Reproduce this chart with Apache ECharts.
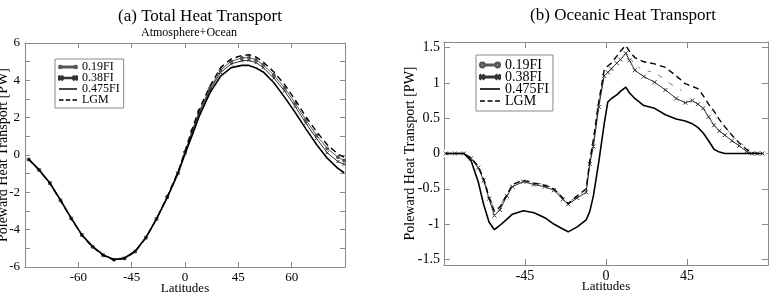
<!DOCTYPE html>
<html>
<head>
<meta charset="utf-8">
<script src="https://cdn.jsdelivr.net/npm/echarts@6/dist/echarts.min.js"></script>
<style>
html, body { margin: 0; padding: 0; background: #fff; }
#chart { width: 771px; height: 297px; }
</style>
</head>
<body>
<div id="chart"></div>
<script>
// (a) total heat transport, latitudes + values
const totalLat = [-88, -82, -76, -70, -64, -58, -52, -46, -40, -34, -28, -22, -16, -10, -4, 0,
	4, 8, 14, 20, 26, 32, 36, 40, 44, 50, 56, 62, 68, 74, 80, 86, 89.5]
const total019 = [-0.24, -0.81, -1.5, -2.43, -3.4, -4.29, -4.92, -5.37, -5.61, -5.54, -5.17, -4.43, -3.42, -2.25, -0.96, 0.15,
	1.3, 2.35, 3.57, 4.55, 5.02, 5.2, 5.22, 5.1, 4.83, 4.28, 3.6, 2.77, 1.88, 1.05, 0.35, -0.12, -0.3]
const total038 = [-0.23, -0.8, -1.51, -2.43, -3.39, -4.28, -4.91, -5.36, -5.6, -5.53, -5.16, -4.43, -3.42, -2.26, -0.98, 0.1,
	1.2, 2.25, 3.47, 4.42, 4.88, 5.05, 5.07, 4.95, 4.68, 4.12, 3.43, 2.6, 1.7, 0.88, 0.12, -0.35, -0.5]
const total0475 = [-0.22, -0.8, -1.5, -2.42, -3.38, -4.28, -4.9, -5.35, -5.6, -5.52, -5.15, -4.42, -3.42, -2.28, -1.0, 0.05,
	1.05, 2.08, 3.33, 4.22, 4.68, 4.8, 4.8, 4.66, 4.45, 3.87, 3.1, 2.28, 1.4, 0.56, -0.17, -0.72, -0.95]
const totalLgm = [-0.22, -0.82, -1.52, -2.45, -3.4, -4.3, -4.93, -5.38, -5.62, -5.55, -5.18, -4.44, -3.42, -2.22, -0.92, 0.2,
	1.4, 2.45, 3.68, 4.68, 5.15, 5.33, 5.37, 5.25, 4.98, 4.45, 3.78, 2.95, 2.05, 1.25, 0.55, 0.05, -0.12]

// (b) oceanic heat transport
const oceanLat = [-89, -84, -79, -75, -71, -68, -65, -62, -59, -55, -52, -46, -40, -34, -29, -24, -21, -16, -11, -9, -7, -4, -1,
	1, 3, 6, 8, 11, 13, 16, 21, 27, 33, 39, 44, 48, 51, 54, 57, 60, 63, 66, 70, 74, 78, 81, 84, 87]
const ocean019 = [0, 0, 0, -0.07, -0.19, -0.35, -0.6, -0.8, -0.75, -0.57, -0.45, -0.37, -0.41, -0.44, -0.49, -0.62, -0.7, -0.6, -0.52, -0.12, 0.15, 0.72, 1.13,
	1.2, 1.24, 1.33, 1.38, 1.46, 1.38, 1.25, 1.18, 1.15, 1.04, 0.93, 0.87, 0.85, 0.83, 0.75, 0.65, 0.55, 0.45, 0.37, 0.26, 0.17, 0.08, 0.01, 0, 0]
const ocean038 = [0, 0, 0, -0.07, -0.2, -0.38, -0.64, -0.88, -0.8, -0.6, -0.47, -0.4, -0.44, -0.47, -0.52, -0.65, -0.72, -0.63, -0.55, -0.15, 0.1, 0.66, 1.1,
	1.15, 1.2, 1.28, 1.33, 1.42, 1.32, 1.18, 1.09, 1.01, 0.9, 0.78, 0.72, 0.75, 0.7, 0.64, 0.52, 0.4, 0.32, 0.26, 0.18, 0.11, 0.03, 0, 0, 0]
const ocean0475 = [0, 0, 0, -0.1, -0.4, -0.72, -0.97, -1.08, -1.02, -0.93, -0.86, -0.81, -0.84, -0.91, -1.0, -1.07, -1.11, -1.04, -0.94, -0.82, -0.6, -0.12, 0.42,
	0.73, 0.78, 0.83, 0.88, 0.94, 0.86, 0.78, 0.68, 0.64, 0.55, 0.49, 0.46, 0.42, 0.37, 0.29, 0.18, 0.06, 0.02, 0, 0, 0, 0, 0, 0, 0]
const oceanLgm = [0, 0, 0, -0.06, -0.18, -0.36, -0.62, -0.82, -0.76, -0.58, -0.44, -0.38, -0.42, -0.45, -0.5, -0.63, -0.71, -0.6, -0.5, -0.1, 0.2, 0.74, 1.18,
	1.24, 1.28, 1.38, 1.45, 1.53, 1.45, 1.36, 1.3, 1.27, 1.22, 1.1, 0.99, 0.95, 0.92, 0.82, 0.7, 0.6, 0.48, 0.38, 0.26, 0.15, 0.06, 0.01, 0, 0]

const seriesNames = ['0.19FI', '0.38FI', '0.475FI', 'LGM']

// tick values / labels
const totalXTicks = [-60, -30, 0, 30, 60]
const totalXLabels = ['-60', '-45', '0', '45', '60'] // as printed in the figure
const totalYTicks = [-5, -4, -3, -2, -1, 0, 1, 2, 3, 4, 5]
const totalYLabels = [-6, -4, -2, 0, 2, 4, 6]
const oceanXTicks = [-45, 0, 45]
const oceanYTicks = [-1.5, -1, -0.5, 0, 0.5, 1, 1.5]

const FONT = 'Liberation Serif'
const AXIS_GREY = '#8a8a8a'

function zip(xs, ys) {
	return xs.map((x, i) => [x, ys[i]])
}

// legend icons, drawn as filled paths in a 20 x 8 box
const ICON_LINE = 'path://M0,3.2h20v1.6h-20z'
const ICON_DASH = 'path://M0,3.3h5v1.4h-5zM7.5,3.3h5v1.4h-5zM15,3.3h5v1.4h-5z'
function dot(cx, r) {
	return 'M' + (cx - r) + ',4a' + r + ',' + r + ' 0 1,0 ' + 2 * r + ',0a' + r + ',' + r + ' 0 1,0 ' + -2 * r + ',0z'
}
function hole(cx, r) {
	return 'M' + (cx - r) + ',4a' + r + ',' + r + ' 0 1,1 ' + 2 * r + ',0a' + r + ',' + r + ' 0 1,1 ' + -2 * r + ',0z'
}
function cross(cx) {
	const a = 2, b = 0.45
	return 'M' + (cx - a) + ',' + (4 - a + b) + 'L' + (cx - a + b) + ',' + (4 - a) + 'L' + (cx + a) + ',' + (4 + a - b) + 'L' + (cx + a - b) + ',' + (4 + a) + 'Z' +
		'M' + (cx + a - b) + ',' + (4 - a) + 'L' + (cx + a) + ',' + (4 - a + b) + 'L' + (cx - a + b) + ',' + (4 + a) + 'L' + (cx - a) + ',' + (4 + a - b) + 'Z'
}
const ICON_DOTS = 'path://M2,3.6h16v0.8h-16z' + dot(2, 1.4) + dot(18, 1.4)
const ICON_RINGS = 'path://M4.5,3.5h11v1h-11z' + dot(2, 2.5) + hole(2, 1.6) + dot(18, 2.5) + hole(18, 1.6)
const ICON_CROSS = 'path://M0,3.6h20v0.8h-20z' + cross(2) + cross(18)

function frameAxis(opt) {
	// one side of the box, ticks pointing in
	return Object.assign({
		type: 'value',
		axisLine: { show: true, onZero: false, lineStyle: { color: AXIS_GREY, width: 1 } },
		axisTick: { show: true, inside: true, length: 5, lineStyle: { color: AXIS_GREY } },
		axisLabel: { show: false },
		splitLine: { show: false },
		nameMoveOverlap: false
	}, opt)
}

const xLabelMap = {}
totalXTicks.forEach((v, i) => (xLabelMap[v] = totalXLabels[i]))

const crossSymbol = 'path://M0,0L10,10M10,0L0,10'

function makeSeries(data, xi, yi, big) {
	return [
		{
			name: seriesNames[0], type: 'line', xAxisIndex: xi, yAxisIndex: yi,
			data: data[0],
			color: big ? '#777' : '#555',
			symbol: big ? 'emptyCircle' : 'circle',
			symbolSize: big ? 6 : 3,
			itemStyle: { color: big ? '#fff' : '#555', borderColor: big ? '#777' : '#555', borderWidth: 1 },
			lineStyle: { color: big ? '#777' : '#555', width: 1 },
			z: 3
		},
		{
			name: seriesNames[1], type: 'line', xAxisIndex: xi, yAxisIndex: yi,
			data: data[1],
			color: '#333',
			symbol: crossSymbol,
			symbolSize: big ? 4 : 3,
			itemStyle: { color: '#333', borderColor: '#333', borderWidth: 1 },
			lineStyle: { color: '#333', width: 1 },
			z: 4
		},
		{
			name: seriesNames[2], type: 'line', xAxisIndex: xi, yAxisIndex: yi,
			data: data[2],
			color: '#000',
			symbol: 'none',
			lineStyle: { color: '#000', width: 1.6 },
			z: 5
		},
		{
			name: seriesNames[3], type: 'line', xAxisIndex: xi, yAxisIndex: yi,
			data: data[3],
			color: '#000',
			symbol: 'none',
			lineStyle: { color: '#000', width: 1.4, type: [6, 4] },
			z: 6
		}
	]
}

function legendData(ringColor, ringIcon) {
	return [
		{ name: seriesNames[0], icon: ringIcon, itemStyle: { color: ringColor } },
		{ name: seriesNames[1], icon: ICON_CROSS, itemStyle: { color: '#333' } },
		{ name: seriesNames[2], icon: ICON_LINE, itemStyle: { color: '#000' } },
		{ name: seriesNames[3], icon: ICON_DASH, itemStyle: { color: '#000' } }
	]
}

const myChart = echarts.init(document.getElementById('chart'), null, { renderer: 'canvas' })

var option = {
	animation: false,
	backgroundColor: '#fff',
	textStyle: { fontFamily: FONT },
	title: [
		{ text: '(a) Total Heat Transport', left: 195, top: 3, textAlign: 'center',
			textStyle: { fontFamily: FONT, fontSize: 17, fontWeight: 'normal', color: '#000' } },
		{ text: 'Atmosphere+Ocean', left: 184, top: 22, textAlign: 'center',
			textStyle: { fontFamily: FONT, fontSize: 12, fontWeight: 'normal', color: '#000' } },
		{ text: '(b) Oceanic Heat Transport', left: 618, top: 2, textAlign: 'center',
			textStyle: { fontFamily: FONT, fontSize: 17, fontWeight: 'normal', color: '#000' } }
	],
	legend: [
		{
			orient: 'vertical', left: 55, top: 59,
			data: legendData('#555', ICON_DOTS),
			itemWidth: 18, itemHeight: 8, itemGap: -1,
			padding: [2, 4, 2, 3],
			borderColor: AXIS_GREY, borderWidth: 1,
			textStyle: { fontFamily: FONT, fontSize: 12, color: '#000' }
		},
		{
			orient: 'vertical', left: 476, top: 55,
			data: legendData('#777', ICON_RINGS),
			itemWidth: 20, itemHeight: 9, itemGap: -2,
			padding: [3, 4, 3, 3],
			borderColor: AXIS_GREY, borderWidth: 1,
			textStyle: { fontFamily: FONT, fontSize: 14, color: '#000' }
		}
	],
	grid: [
		{ left: 25, top: 43, width: 320, height: 224, outerBoundsMode: 'none', containLabel: false },
		{ left: 444, top: 42, width: 324, height: 223, outerBoundsMode: 'none', containLabel: false }
	],
	xAxis: [
		frameAxis({
			gridIndex: 0, position: 'bottom', min: -90, max: 90,
			axisTick: { show: true, inside: true, length: 5, customValues: totalXTicks, lineStyle: { color: AXIS_GREY } },
			axisLabel: {
				show: true, customValues: totalXTicks, margin: 4,
				fontFamily: FONT, fontSize: 13, color: '#000',
				formatter: v => xLabelMap[v] || ''
			},
			name: 'Latitudes', nameLocation: 'middle', nameGap: 15,
			nameTextStyle: { fontFamily: FONT, fontSize: 13, color: '#000' }
		}),
		frameAxis({
			gridIndex: 0, position: 'top', min: -90, max: 90,
			axisTick: { show: true, inside: true, length: 5, customValues: totalXTicks, lineStyle: { color: AXIS_GREY } }
		}),
		frameAxis({
			gridIndex: 1, position: 'bottom', min: -90, max: 90,
			axisTick: { show: true, inside: true, length: 6, customValues: oceanXTicks, lineStyle: { color: AXIS_GREY } },
			axisLabel: {
				show: true, customValues: oceanXTicks, margin: 4,
				fontFamily: FONT, fontSize: 14, color: '#000'
			},
			name: 'Latitudes', nameLocation: 'middle', nameGap: 15,
			nameTextStyle: { fontFamily: FONT, fontSize: 13, color: '#000' }
		}),
		frameAxis({
			gridIndex: 1, position: 'top', min: -90, max: 90,
			axisTick: { show: true, inside: true, length: 6, customValues: oceanXTicks, lineStyle: { color: AXIS_GREY } }
		})
	],
	yAxis: [
		frameAxis({
			gridIndex: 0, position: 'left', min: -6, max: 6,
			axisTick: { show: true, inside: true, length: 5, customValues: totalYTicks, lineStyle: { color: AXIS_GREY } },
			axisLabel: {
				show: true, customValues: totalYLabels, margin: 5,
				fontFamily: FONT, fontSize: 13, color: '#000'
			},
			name: 'Poleward Heat Transport [PW]', nameLocation: 'middle', nameGap: 15,
			nameTextStyle: { fontFamily: FONT, fontSize: 14, color: '#000' }
		}),
		frameAxis({
			gridIndex: 0, position: 'right', min: -6, max: 6,
			axisTick: { show: true, inside: true, length: 5, customValues: totalYTicks, lineStyle: { color: AXIS_GREY } }
		}),
		frameAxis({
			gridIndex: 1, position: 'left', min: -1.58, max: 1.58,
			axisTick: { show: true, inside: true, length: 6, customValues: oceanYTicks, lineStyle: { color: AXIS_GREY } },
			axisLabel: {
				show: true, customValues: oceanYTicks, margin: 4,
				fontFamily: FONT, fontSize: 14, color: '#000'
			},
			name: 'Poleward Heat Transport [PW]', nameLocation: 'middle', nameGap: 27,
			nameTextStyle: { fontFamily: FONT, fontSize: 14, color: '#000' }
		}),
		frameAxis({
			gridIndex: 1, position: 'right', min: -1.58, max: 1.58,
			axisTick: { show: true, inside: true, length: 6, customValues: oceanYTicks, lineStyle: { color: AXIS_GREY } }
		})
	],
	series: [].concat(
		makeSeries([
			zip(totalLat, total019),
			zip(totalLat, total038),
			zip(totalLat, total0475),
			zip(totalLat, totalLgm)
		], 0, 0, false),
		makeSeries([
			zip(oceanLat, ocean019),
			zip(oceanLat, ocean038),
			zip(oceanLat, ocean0475),
			zip(oceanLat, oceanLgm)
		], 2, 2, true)
	)
}
myChart.setOption(option)
</script>
</body>
</html>
